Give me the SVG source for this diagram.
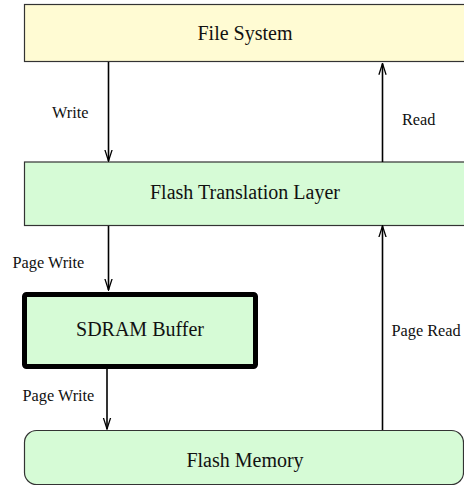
<svg xmlns="http://www.w3.org/2000/svg" width="464" height="486" viewBox="0 0 464 486">
  <style>
    .box { stroke: #333333; stroke-width: 1.2; }
    .fs { fill: #fffbd3; }
    .green { fill: #d6fbd6; }
    text { font-family: 'Liberation Serif', 'DejaVu Serif', 'Times New Roman', serif; fill: #111111; }
    .label { font-size: 20px; text-anchor: middle; }
    .edge-label { font-size: 16.3px; }
    .conn { stroke: #000000; stroke-width: 1.6; fill: none; }
  </style>
  <defs>
    <marker id="open-arrow" markerUnits="userSpaceOnUse" markerWidth="12" markerHeight="18" refX="14" refY="5" viewBox="0 0 15 10" orient="auto">
      <path d="M0,0.5 L14,5 L0,9.5" fill="none" stroke="#000000" stroke-width="1.6"/>
    </marker>
  </defs>
  <rect width="464" height="486" fill="#ffffff"/>

  <g id="file-system">
    <rect class="box fs" x="24.5" y="4.5" width="441" height="57"/>
    <text class="label" x="245" y="40" font-family="Liberation Serif, serif">File System</text>
  </g>

  <g id="flash-translation-layer">
    <rect class="box green" x="24.5" y="162" width="441" height="63.5"/>
    <text class="label" x="245" y="199" font-family="Liberation Serif, serif">Flash Translation Layer</text>
  </g>

  <g id="sdram-buffer">
    <rect class="green" x="24.5" y="294.5" width="231" height="72" rx="2" stroke="#000000" stroke-width="5"/>
    <text class="label" x="140" y="336" font-family="Liberation Serif, serif">SDRAM Buffer</text>
  </g>

  <g id="flash-memory">
    <rect class="box green" x="24.5" y="430.5" width="439" height="54" rx="12"/>
    <text class="label" x="245" y="467" font-family="Liberation Serif, serif">Flash Memory</text>
  </g>

  <g id="connectors">
    <line class="conn" x1="108.5" y1="62" x2="108.5" y2="161" marker-end="url(#open-arrow)"/>
    <line class="conn" x1="382.5" y1="162" x2="382.5" y2="63.5" marker-end="url(#open-arrow)"/>
    <line class="conn" x1="108.5" y1="226" x2="108.5" y2="290" marker-end="url(#open-arrow)"/>
    <line class="conn" x1="382.5" y1="430" x2="382.5" y2="226" marker-end="url(#open-arrow)"/>
    <line class="conn" x1="107" y1="369" x2="107" y2="429" marker-end="url(#open-arrow)"/>
    <text class="edge-label" x="52" y="118" font-family="Liberation Serif, serif">Write</text>
    <text class="edge-label" x="402" y="125" font-family="Liberation Serif, serif">Read</text>
    <text class="edge-label" x="12.5" y="268" font-family="Liberation Serif, serif">Page Write</text>
    <text class="edge-label" x="391.5" y="336" font-family="Liberation Serif, serif">Page Read</text>
    <text class="edge-label" x="22.5" y="401" font-family="Liberation Serif, serif">Page Write</text>
  </g>
</svg>
